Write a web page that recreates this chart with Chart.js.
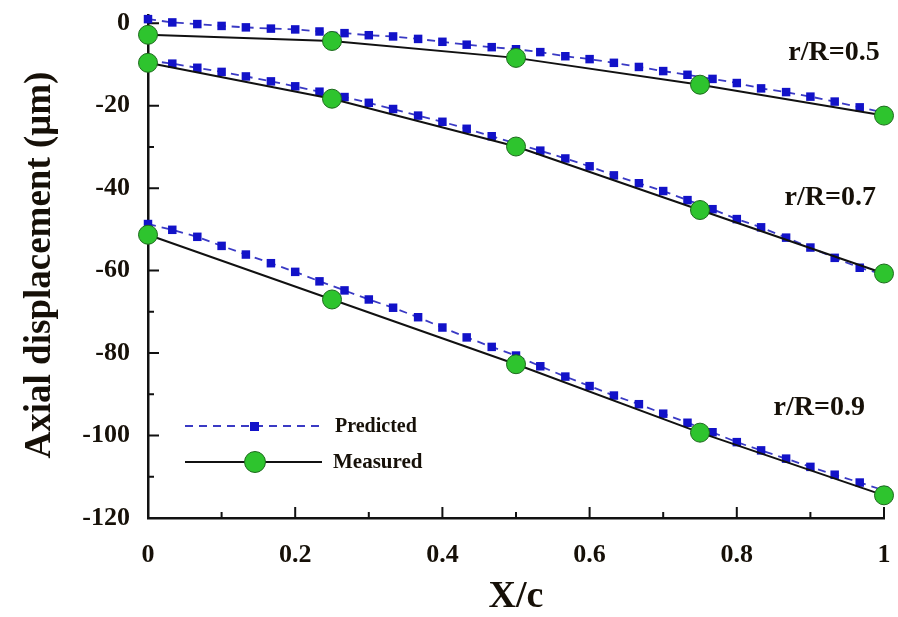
<!DOCTYPE html>
<html>
<head>
    <title>Axial displacement vs X/c</title>
    <script src="https://cdn.jsdelivr.net/npm/chart.js"></script>
    <style>
        body {
            margin: 0;
            background: #fff;
        }
        #wrap {
            width: 898px;
            height: 617px;
        }
    </style>
</head>
<body>
    <div id="wrap"><canvas id="chart" width="898" height="617"></canvas></div>

    <script>
        // x positions of the predicted points (31 per curve)
        const predX = [0, 0.033, 0.067, 0.1, 0.133, 0.167, 0.2, 0.233, 0.267, 0.3,
                       0.333, 0.367, 0.4, 0.433, 0.467, 0.5, 0.533, 0.567, 0.6, 0.633,
                       0.667, 0.7, 0.733, 0.767, 0.8, 0.833, 0.867, 0.9, 0.933, 0.967, 1];
        const measX = [0, 0.25, 0.5, 0.75, 1];

        const pred05 = [1.0, 0.2, -0.2, -0.65, -1.0, -1.3, -1.5, -2.0, -2.4, -2.9,
                        -3.2, -3.8, -4.5, -5.2, -5.8, -6.3, -7.0, -8.0, -8.7, -9.6,
                        -10.6, -11.6, -12.5, -13.5, -14.5, -15.8, -16.7, -17.8, -19.0, -20.4, -21.7];
        const pred07 = [-9.0, -9.8, -10.8, -11.8, -12.9, -14.1, -15.3, -16.6, -17.9, -19.3,
                        -20.8, -22.4, -23.9, -25.6, -27.4, -29.2, -30.9, -32.8, -34.7, -36.9,
                        -38.8, -40.7, -42.9, -45.1, -47.5, -49.5, -52.0, -54.4, -56.9, -59.3, -61.0];
        const pred09 = [-48.7, -50.1, -51.8, -54.0, -56.1, -58.2, -60.3, -62.6, -64.8, -67.0,
                        -69.0, -71.3, -73.8, -76.2, -78.5, -80.6, -83.2, -85.7, -88.0, -90.3,
                        -92.4, -94.7, -96.9, -99.2, -101.6, -103.6, -105.6, -107.6, -109.5, -111.4, -113.3];

        const meas05 = [-2.8, -4.3, -8.4, -14.9, -22.4];
        const meas07 = [-9.6, -18.3, -29.9, -45.3, -60.7];
        const meas09 = [-51.3, -67.0, -82.7, -99.3, -114.5];

        const curveNames = ['r/R=0.5', 'r/R=0.7', 'r/R=0.9'];
        const xTicks = [0, 0.2, 0.4, 0.6, 0.8, 1];
        const yTicks = [0, -20, -40, -60, -80, -100, -120];
        const xMinor = [0.1, 0.3, 0.5, 0.7, 0.9];
        const yMinor = [-10, -30, -50, -70, -90, -110];

        const serif = "'Liberation Serif', 'Times New Roman', serif";
        const ink = '#161008';

        const toPts = (xs, ys) => xs.map((x, i) => ({ x: x, y: ys[i] }));

        const predStyle = {
            borderColor: '#3a3ac4',
            borderWidth: 1.8,
            borderDash: [8, 6],
            pointStyle: 'rect',
            pointRadius: 6,
            pointBackgroundColor: '#1212c8',
            pointBorderColor: '#1212c8',
            pointBorderWidth: 0,
            tension: 0,
            clip: false,
            order: 1
        };
        const measStyle = {
            borderColor: '#111',
            borderWidth: 2,
            pointStyle: 'circle',
            pointRadius: 9.5,
            pointBackgroundColor: '#2ec42e',
            pointBorderColor: '#1d6a1d',
            pointBorderWidth: 1,
            tension: 0,
            clip: false,
            order: 0
        };

        // inward ticks, axis titles, curve labels and the legend box
        const decorations = {
            id: 'decorations',
            beforeDatasetsDraw(chart) {
                const ctx = chart.ctx;
                const xs = chart.scales.x, ys = chart.scales.y;
                const a = chart.chartArea;
                ctx.save();
                ctx.strokeStyle = '#111';
                ctx.lineWidth = 2;
                ctx.beginPath();
                xTicks.forEach(v => { const p = xs.getPixelForValue(v); ctx.moveTo(p, a.bottom); ctx.lineTo(p, a.bottom - 11); });
                xMinor.forEach(v => { const p = xs.getPixelForValue(v); ctx.moveTo(p, a.bottom); ctx.lineTo(p, a.bottom - 6); });
                yTicks.forEach(v => { const p = ys.getPixelForValue(v); ctx.moveTo(a.left, p); ctx.lineTo(a.left + 11, p); });
                yMinor.forEach(v => { const p = ys.getPixelForValue(v); ctx.moveTo(a.left, p); ctx.lineTo(a.left + 6, p); });
                ctx.stroke();
                ctx.restore();
            },
            afterDraw(chart) {
                const ctx = chart.ctx;
                const xs = chart.scales.x, ys = chart.scales.y;
                ctx.save();
                ctx.fillStyle = ink;
                ctx.textAlign = 'center';
                ctx.textBaseline = 'middle';

                // axis titles
                ctx.font = 'bold 38px ' + serif;
                ctx.fillText('X/c', 516, 597);
                ctx.save();
                ctx.translate(40, 265);
                ctx.rotate(-Math.PI / 2);
                ctx.font = 'bold 37px ' + serif;
                ctx.fillText('Axial displacement (\u03bcm)', 0, 0);
                ctx.restore();

                // curve labels
                const spots = [[0.932, -7.2], [0.927, -42.4], [0.912, -93.3]];
                ctx.font = 'bold 28px ' + serif;
                curveNames.forEach((t, i) => {
                    ctx.fillText(t, xs.getPixelForValue(spots[i][0]), ys.getPixelForValue(spots[i][1]));
                });

                // legend
                ctx.textAlign = 'left';
                ctx.strokeStyle = '#3a3ac4';
                ctx.lineWidth = 1.8;
                ctx.setLineDash([8, 6]);
                ctx.beginPath();
                ctx.moveTo(185, 426);
                ctx.lineTo(322, 426);
                ctx.stroke();
                ctx.setLineDash([]);
                ctx.fillStyle = '#1212c8';
                ctx.fillRect(250, 422, 9, 9);

                ctx.strokeStyle = '#111';
                ctx.lineWidth = 2;
                ctx.beginPath();
                ctx.moveTo(185, 462);
                ctx.lineTo(322, 462);
                ctx.stroke();
                ctx.beginPath();
                ctx.arc(255, 462, 10.5, 0, Math.PI * 2);
                ctx.fillStyle = '#2ec42e';
                ctx.fill();
                ctx.lineWidth = 1;
                ctx.strokeStyle = '#1d6a1d';
                ctx.stroke();

                ctx.fillStyle = ink;
                ctx.font = 'bold 20px ' + serif;
                ctx.fillText('Predicted', 335, 427);
                ctx.font = 'bold 21px ' + serif;
                ctx.fillText('Measured', 333, 463);
                ctx.restore();
            }
        };

        new Chart(document.getElementById('chart'), {
            type: 'line',
            data: {
                datasets: [
                    { label: 'Measured ' + curveNames[0], data: toPts(measX, meas05), ...measStyle },
                    { label: 'Measured ' + curveNames[1], data: toPts(measX, meas07), ...measStyle },
                    { label: 'Measured ' + curveNames[2], data: toPts(measX, meas09), ...measStyle },
                    { label: 'Predicted ' + curveNames[0], data: toPts(predX, pred05), ...predStyle },
                    { label: 'Predicted ' + curveNames[1], data: toPts(predX, pred07), ...predStyle },
                    { label: 'Predicted ' + curveNames[2], data: toPts(predX, pred09), ...predStyle }
                ]
            },
            options: {
                responsive: false,
                animation: false,
                layout: {
                    autoPadding: false,
                    padding: { top: 15, right: 14, left: 0, bottom: 0 }
                },
                plugins: {
                    legend: { display: false },
                    tooltip: { enabled: false }
                },
                scales: {
                    x: {
                        type: 'linear',
                        min: 0,
                        max: 1,
                        afterBuildTicks: s => { s.ticks = xTicks.map(v => ({ value: v })); },
                        afterFit: s => { s.height = 99; s.paddingLeft = 0; s.paddingRight = 0; },
                        grid: { display: false },
                        border: { display: true, color: '#111', width: 2.5 },
                        ticks: {
                            padding: 14,
                            color: ink,
                            maxRotation: 0,
                            font: { family: serif, size: 26, weight: 'bold' },
                            callback: v => String(v)
                        }
                    },
                    y: {
                        type: 'linear',
                        min: -120,
                        max: 2,
                        afterBuildTicks: s => { s.ticks = yTicks.map(v => ({ value: v })); },
                        afterFit: s => { s.width = 148; s.paddingTop = 0; s.paddingBottom = 0; },
                        grid: { display: false },
                        border: { display: true, color: '#111', width: 2.5 },
                        ticks: {
                            padding: 10,
                            color: ink,
                            font: { family: serif, size: 26, weight: 'bold' },
                            callback: v => String(v)
                        }
                    }
                }
            },
            plugins: [decorations]
        });
    </script>
</body>
</html>
